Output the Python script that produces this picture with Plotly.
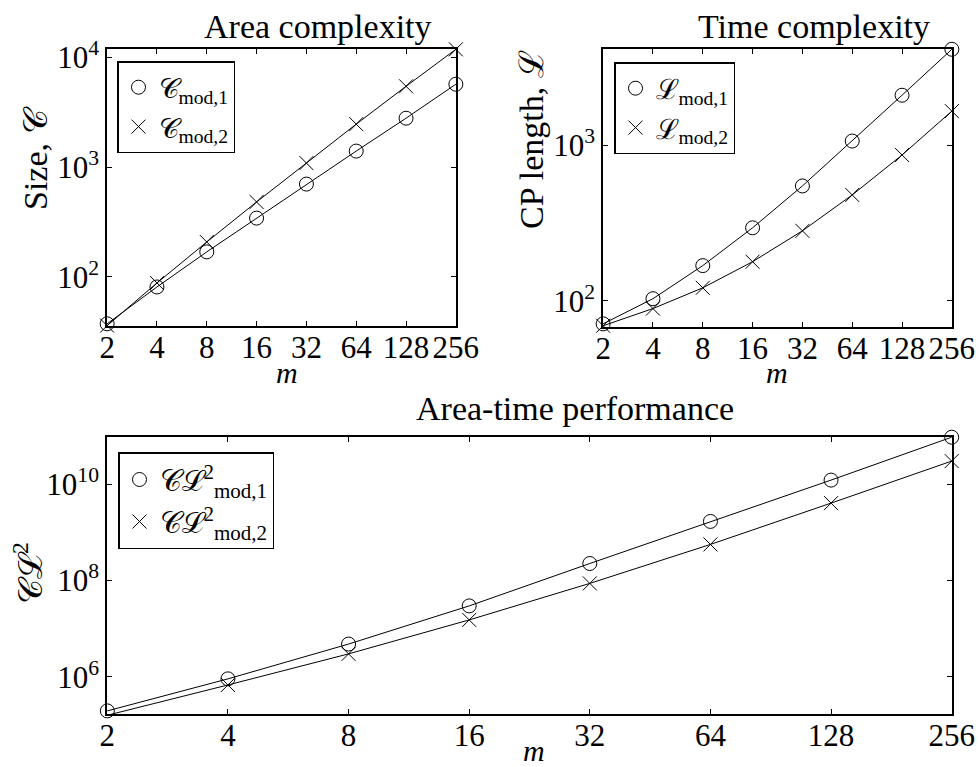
import plotly.graph_objects as go
import math

m = [2, 4, 8, 16, 32, 64, 128, 256]
m_labels = ["2", "4", "8", "16", "32", "64", "128", "256"]

# Area complexity (size C)
C_mod1 = [37.4, 81, 169, 343, 700, 1398, 2786, 5680]
C_mod2 = [36, 88, 208, 481, 1087, 2460, 5440, 11800]

# Time complexity (CP length L)
L_mod1 = [71, 103, 168, 294, 546, 1061, 2090, 4124]
L_mod2 = [69, 89, 121, 178, 281, 478, 863, 1652]

# Area-time performance (C L^2)
CL2_mod1 = [1.97e5, 9.1e5, 4.8e6, 2.97e7, 2.25e8, 1.68e9, 1.21e10, 9.4e10]
CL2_mod2 = [1.6e5, 6.8e5, 3.0e6, 1.52e7, 8.7e7, 5.6e8, 4.03e9, 3.0e10]

FONT = "Liberation Serif"
W, H = 979, 767

fig = go.Figure()

def add_series(x, y, xa, ya, symbol, name, legend):
    fig.add_trace(go.Scatter(x=x, y=y, xaxis=xa, yaxis=ya, mode="lines",
                             line=dict(color="black", width=1), showlegend=False,
                             hoverinfo="skip", cliponaxis=False))
    fig.add_trace(go.Scatter(x=x, y=y, xaxis=xa, yaxis=ya, mode="markers",
                             marker=dict(symbol=symbol, size=14, color="black",
                                         line=dict(color="black", width=1)),
                             name=name, legend=legend, cliponaxis=False))

add_series(m, C_mod1, "x", "y", "circle-open", "𝒞<sub>mod,1</sub>", "legend")
add_series(m, C_mod2, "x", "y", "x-thin-open", "𝒞<sub>mod,2</sub>", "legend")
add_series(m, L_mod1, "x2", "y2", "circle-open", "ℒ<sub>mod,1</sub>", "legend2")
add_series(m, L_mod2, "x2", "y2", "x-thin-open", "ℒ<sub>mod,2</sub>", "legend2")
add_series(m, CL2_mod1, "x3", "y3", "circle-open", "𝒞ℒ<sup>2</sup><sub>mod,1</sub>", "legend3")
add_series(m, CL2_mod2, "x3", "y3", "x-thin-open", "𝒞ℒ<sup>2</sup><sub>mod,2</sub>", "legend3")

def px_x(v):
    return v / W

def px_y(v):
    return 1 - v / H

tickfont = dict(family=FONT, size=31, color="black")
EPS = 0.0008

def xaxis(dom, anchor):
    return dict(type="log", domain=dom, anchor=anchor, automargin=False,
                range=[math.log10(2) - EPS, math.log10(256) + EPS],
                tickvals=m, ticktext=m_labels, tickangle=0, ticks="inside", ticklen=5,
                ticklabelstandoff=-7,
                tickcolor="black", mirror="ticks", showline=True, linecolor="black",
                linewidth=1.5, showgrid=False, zeroline=False, tickfont=tickfont)

def yaxis(dom, anchor, rng, vals):
    return dict(type="log", domain=dom, anchor=anchor, range=rng, automargin=False,
                tickvals=[10 ** v for v in vals],
                ticktext=["10<sup>%d</sup>" % v for v in vals],
                ticks="inside", ticklen=5, tickcolor="black", mirror="ticks",
                showline=True, linecolor="black", linewidth=1.5, showgrid=False,
                zeroline=False, tickfont=tickfont)

fig.update_layout(
    width=W, height=H, margin=dict(l=0, r=0, t=0, b=0, autoexpand=False),
    paper_bgcolor="white", plot_bgcolor="white",
    font=dict(family=FONT, color="black"),
    xaxis=xaxis([px_x(107), px_x(456)], "y"),
    yaxis=yaxis([px_y(326), px_y(49)], "x", [1.553, 4.075], [2, 3, 4]),
    xaxis2=xaxis([px_x(603), px_x(952)], "y2"),
    yaxis2=yaxis([px_y(327), px_y(49)], "x2", [1.831, 3.617], [2, 3]),
    xaxis3=xaxis([px_x(107), px_x(952)], "y3"),
    yaxis3=yaxis([px_y(714), px_y(437)], "x3", [5.23, 10.977], [6, 8, 10]),
)

legend_common = dict(bgcolor="white", bordercolor="black", borderwidth=1.5,
                     xanchor="left", yanchor="top", tracegroupgap=0)
fig.update_layout(
    legend=dict(x=px_x(117), y=px_y(61), font=dict(family=FONT, size=28, color="black"),
                **legend_common),
    legend2=dict(x=px_x(614), y=px_y(62), font=dict(family=FONT, size=28, color="black"),
                 **legend_common),
    legend3=dict(x=px_x(118), y=px_y(452), font=dict(family=FONT, size=30, color="black"),
                 **legend_common),
)

def ann(text, x, y, size, angle=0, italic=False):
    fig.add_annotation(text=text, x=px_x(x), y=px_y(y), xref="paper", yref="paper",
                       showarrow=False, textangle=angle, xanchor="center", yanchor="middle",
                       font=dict(family=FONT, size=size, color="black",
                                 style="italic" if italic else "normal"))

ann("Area complexity", 318, 27, 34)
ann("Time complexity", 814, 27, 34)
ann("Area-time performance", 575, 408, 34)
ann("Size, 𝒞", 35, 158, 34, angle=-90)
ann("CP length, ℒ", 531, 140, 34, angle=-90)
ann("𝒞ℒ<sup>2</sup>", 28, 573, 34, angle=-90)
ann("m", 287, 372, 30, italic=True)
ann("m", 777, 372, 30, italic=True)
ann("m", 534, 750, 30, italic=True)

fig.write_html("out.html")
